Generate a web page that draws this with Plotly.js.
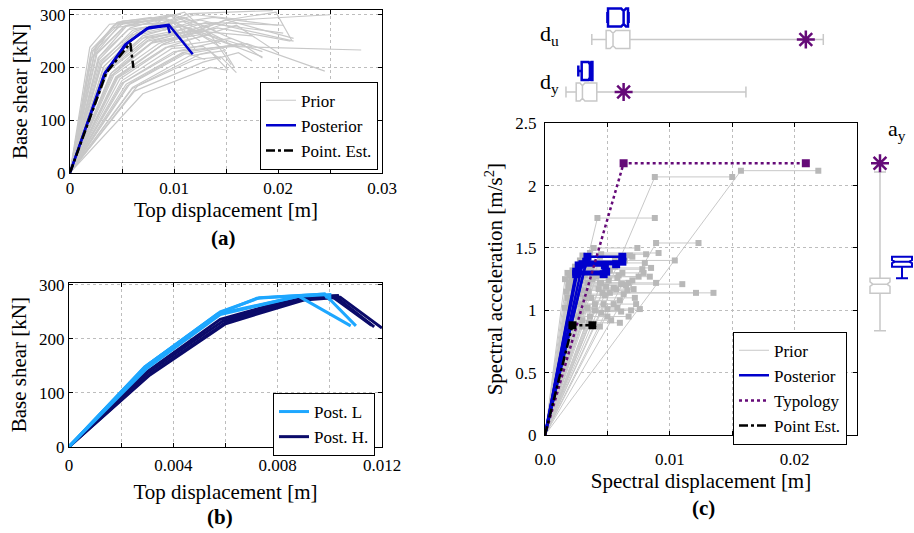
<!DOCTYPE html>
<html><head><meta charset="utf-8">
<script src="https://cdn.plot.ly/plotly-3.0.1.min.js"></script>
<style>html,body{margin:0;padding:0;background:#fff}#chart{width:914px;height:533px}</style>
</head><body><div id="chart"></div>
<script>
// ---------------- DATA ----------------
// (a) prior pushover curves: displacement [m], base shear [kN]
const priorA_x = [
 [0,0.0022,0.0045,0.0095,0.0125],[0,0.0025,0.005,0.009,0.013],[0,0.002,0.004,0.0085,0.0115],
 [0,0.0028,0.0055,0.01,0.014],[0,0.003,0.006,0.011,0.0155],[0,0.0032,0.0065,0.012,0.017],
 [0,0.0035,0.007,0.0125,0.0215],[0,0.004,0.008,0.014,0.0205],[0,0.0045,0.009,0.016,0.025],
 [0,0.005,0.01,0.015,0.028],[0,0.0055,0.011,0.017,0.0245],[0,0.006,0.012,0.0145,0.016],
 [0,0.007,0.0135,0.015],[0,0.0065,0.0125,0.0135,0.0152],[0,0.004,0.0075,0.012,0.0185],
 [0,0.0038,0.0072,0.0115,0.016],[0,0.003,0.006,0.0105,0.0145],[0,0.0025,0.0052,0.0098,0.012],
 [0,0.0027,0.0058,0.011,0.0135],[0,0.0042,0.0085,0.015,0.0215],[0,0.0048,0.0095,0.016,0.02],
 [0,0.0052,0.0105,0.0145,0.0185],[0,0.0058,0.011,0.013],[0,0.0034,0.0068,0.0118,0.0175],
 [0,0.0023,0.0048,0.0092,0.011],[0,0.002,0.0042,0.008,0.0105],[0,0.0021,0.0046,0.0078,0.0098],
 [0,0.0029,0.0062,0.0115,0.0195],[0,0.0036,0.0075,0.013,0.0205],[0,0.0044,0.0088,0.0135,0.0155],
 [0,0.005,0.0098,0.0128,0.0145],[0,0.0031,0.0064,0.0108,0.0128],[0,0.0026,0.0054,0.0102,0.0125],
 [0,0.0039,0.0078,0.0125,0.015],[0,0.0046,0.0092,0.0155,0.0175],[0,0.0054,0.0108,0.0165,0.0185],
 [0,0.0033,0.0066,0.012,0.0145],[0,0.0024,0.0051,0.0097,0.0118],[0,0.0037,0.0074,0.0128,0.0148],
 [0,0.006,0.0115,0.0148,0.0158],[0,0.0028,0.0056,0.0138,0.02],[0,0.0041,0.008,0.0142,0.0212],
 [0,0.0045,0.009,0.015,0.0198,0.0213],[0,0.0019,0.0038,0.0072,0.0092],[0,0.0062,0.0128,0.0162,0.0175]
];
const priorA_y = [
 [0,230,285,290,250],[0,240,288,295,260],[0,215,275,285,240],
 [0,220,280,300,270],[0,210,270,295,255],[0,200,265,300,290],
 [0,195,260,290,250],[0,185,250,285,280],[0,180,245,290,300],
 [0,170,230,240,233],[0,165,225,245,193],[0,160,215,220,190],
 [0,150,200,195],[0,165,225,230,195],[0,190,250,270,230],
 [0,200,258,275,240],[0,205,262,280,245],[0,225,278,298,235],
 [0,218,275,305,260],[0,185,245,290,255],[0,178,240,280,228],
 [0,172,232,250,220],[0,170,228,215],[0,198,255,270,260],
 [0,222,282,292,255],[0,228,280,290,265],[0,235,286,295,275],
 [0,212,268,302,308],[0,192,252,285,265],[0,182,242,262,205],
 [0,175,236,240,215],[0,208,266,288,268],[0,226,280,285,262],
 [0,188,246,262,232],[0,180,238,255,240],[0,168,228,245,218],
 [0,203,262,282,285],[0,232,284,300,282],[0,196,255,272,252],
 [0,162,222,232,200],[0,215,272,295,280],[0,186,248,275,250],
 [0,182,245,290,305,252],[0,238,282,288,270],[0,155,210,228,212]
];
const postA_x = [[0,0.0034,0.0055,0.0076,0.0095,0.0118],[0,0.0033,0.0053,0.0074,0.0094,0.0096]];
const postA_y = [[0,190,246,276,281,225],[0,188,243,274,279,265]];
const pointA_x = [0,0.0035,0.0058,0.0061];
const pointA_y = [0,190,246,199];

// (b) posterior curves, L and H
const postL_x = [[0,0.003,0.0058,0.0073,0.0098,0.011],[0,0.0029,0.0057,0.0088,0.01,0.01],
                 [0,0.003,0.0058,0.0088,0.0108],[0,0.0029,0.0058,0.0072,0.0098,0.0099]];
const postL_y = [[0,151,250,276,283,224],[0,147,246,279,282,270],
                 [0,146,245,279,224],[0,148,248,275,283,275]];
const postH_x = [[0,0.003,0.0059,0.0089,0.0102,0.0117],[0,0.0031,0.006,0.009,0.0104,0.012],
                 [0,0.003,0.0058,0.0088,0.0103,0.0104],[0,0.0031,0.006,0.0089,0.0101,0.0116]];
const postH_y = [[0,137,233,276,279,222],[0,133,228,272,277,220],
                 [0,139,236,277,280,268],[0,135,230,274,278,225]];

// (c) capacity curves: yield displacement dy, yield acceleration ay, ultimate displacement du
const priorC_dy = [0.0157,0.0088,0.0042,0.0089,0.0056,0.0052,0.0046,0.0062,0.0039,0.0036,
 0.0045,0.0033,0.0041,0.0038,0.0045,0.0040,0.0036,0.0030,0.0018,0.0020,
 0.0016,0.0022,0.0019,0.0021,0.0024,0.0026,0.0017,0.0023,0.0025,0.0027,
 0.0029,0.0031,0.0028,0.0032,0.0034,0.0020,0.0022,0.0026,0.0030,0.0035,
 0.0018,0.0024,0.0028,0.0030,0.0033,0.0037,0.0040,0.0043,0.0047,0.0050,
 0.0019,0.0021,0.0023,0.0025,0.0027,0.0032,0.0034,0.0016,0.0029,0.0044];
const priorC_ay = [2.12,2.07,1.74,1.54,1.40,1.14,1.14,1.21,1.50,1.46,
 1.45,1.33,1.27,1.27,1.22,1.00,0.95,0.87,1.30,1.28,
 1.25,1.32,1.22,1.18,1.26,1.30,1.15,1.12,1.08,1.20,
 1.24,1.16,1.05,1.10,1.02,1.05,0.98,0.95,0.92,0.90,
 1.10,1.35,1.40,1.44,1.38,1.34,1.30,1.17,1.05,1.01,
 1.19,1.24,1.21,1.17,1.13,1.28,1.22,1.02,0.99,1.43];
const priorC_du = [0.0219,0.0150,0.0088,0.0123,0.0104,0.0135,0.0121,0.0110,0.0074,0.0091,
 0.0081,0.0078,0.0084,0.0075,0.0089,0.0069,0.0067,0.0044,0.0041,0.0046,
 0.0038,0.0052,0.0044,0.0055,0.0058,0.0062,0.0035,0.0048,0.0060,0.0065,
 0.0070,0.0066,0.0055,0.0072,0.0058,0.0040,0.0045,0.0050,0.0053,0.0060,
 0.0037,0.0056,0.0064,0.0068,0.0080,0.0085,0.0079,0.0071,0.0073,0.0076,
 0.0049,0.0051,0.0061,0.0057,0.0063,0.0059,0.0067,0.0034,0.0061,0.0070];
const postC_dy = [0.0025,0.0025,0.0027,0.0034,0.0033,0.0030];
const postC_ay = [1.29,1.31,1.36,1.43,1.39,1.37];
const postC_du = [0.0047,0.0049,0.0048,0.0062,0.0062,0.0057];
const typo_dy = 0.0063, typo_ay = 2.18, typo_du = 0.0209;
const pointC_dy = 0.0022, pointC_ay = 0.88, pointC_du = 0.0038;

// box statistics [lowerfence, q1, median, q3, upperfence]
const box_du_prior = [0.00375,0.0049,0.00545,0.0068,0.0223];
const box_du_post  = [0.0050,0.00505,0.0063,0.00665,0.0067];
const box_dy_prior = [0.00168,0.0025,0.0030,0.00415,0.0161];
const box_dy_post  = [0.00267,0.00294,0.0036,0.0038,0.0038];
const box_ay_prior = [0.836,1.136,1.21,1.257,2.11];
const box_ay_post  = [1.257,1.35,1.39,1.43,1.43];

// ---------------- STYLE / LAYOUT ----------------
const F = 'Liberation Serif, Times New Roman, serif';
const W = 914, H = 533;
const X = p => p / W, Y = p => 1 - p / H;
const GRAY = '#c8c8c8', BLUE = '#0000cc', PURPLE = '#650a78', LIGHT = '#1ea7ff', NAVY = '#0b0b6a';

function joinCurves(xs, ys) {
  const x = [], y = [];
  xs.forEach((c, i) => { c.forEach((v, j) => { x.push(v); y.push(ys[i][j]); }); x.push(null); y.push(null); });
  return {x, y};
}
function capCurves(dy, ay, du) {
  const x = [], y = [];
  dy.forEach((d, i) => { x.push(0, d, du[i], null); y.push(0, ay[i], ay[i], null); });
  return {x, y};
}
function capMarkers(dy, ay, du) {
  const x = [], y = [];
  dy.forEach((d, i) => { x.push(d, du[i]); y.push(ay[i], ay[i]); });
  return {x, y};
}

const traces = [];
// (a)
const pa = joinCurves(priorA_x, priorA_y);
traces.push({x: pa.x, y: pa.y, type: 'scatter', mode: 'lines', name: 'Prior', line: {color: GRAY, width: 1.2},
  xaxis: 'x', yaxis: 'y', legend: 'legend', connectgaps: false});
const poa = joinCurves(postA_x, postA_y);
traces.push({x: poa.x, y: poa.y, type: 'scatter', mode: 'lines', name: 'Posterior', line: {color: BLUE, width: 2.5},
  xaxis: 'x', yaxis: 'y', legend: 'legend'});
traces.push({x: pointA_x, y: pointA_y, type: 'scatter', mode: 'lines', name: 'Point. Est.',
  line: {color: '#000', width: 2.5, dash: 'dashdot'}, xaxis: 'x', yaxis: 'y', legend: 'legend'});

// (b)
const ph = joinCurves(postH_x, postH_y);
const pl = joinCurves(postL_x, postL_y);
traces.push({x: ph.x, y: ph.y, type: 'scatter', mode: 'lines', name: 'Post. H.', line: {color: NAVY, width: 3},
  xaxis: 'x2', yaxis: 'y2', legend: 'legend2', legendrank: 2});
traces.push({x: pl.x, y: pl.y, type: 'scatter', mode: 'lines', name: 'Post. L', line: {color: LIGHT, width: 3},
  xaxis: 'x2', yaxis: 'y2', legend: 'legend2', legendrank: 1});

// (c)
const pc = capCurves(priorC_dy, priorC_ay, priorC_du);
const pcm = capMarkers(priorC_dy, priorC_ay, priorC_du);
traces.push({x: pc.x, y: pc.y, type: 'scatter', mode: 'lines', name: 'Prior', line: {color: GRAY, width: 1},
  xaxis: 'x3', yaxis: 'y3', legend: 'legend3'});
traces.push({x: pcm.x, y: pcm.y, type: 'scatter', mode: 'markers', showlegend: false,
  marker: {symbol: 'square', size: 6, color: '#b8b8b8'}, xaxis: 'x3', yaxis: 'y3'});
const poc = capCurves(postC_dy, postC_ay, postC_du);
const pocm = capMarkers(postC_dy, postC_ay, postC_du);
traces.push({x: poc.x, y: poc.y, type: 'scatter', mode: 'lines', name: 'Posterior', line: {color: BLUE, width: 2.5},
  xaxis: 'x3', yaxis: 'y3', legend: 'legend3'});
traces.push({x: pocm.x, y: pocm.y, type: 'scatter', mode: 'markers', showlegend: false,
  marker: {symbol: 'square', size: 8, color: BLUE}, xaxis: 'x3', yaxis: 'y3'});
const ty = capCurves([typo_dy], [typo_ay], [typo_du]);
const tym = capMarkers([typo_dy], [typo_ay], [typo_du]);
traces.push({x: ty.x, y: ty.y, type: 'scatter', mode: 'lines', name: 'Typology', line: {color: PURPLE, width: 2.5, dash: 'dot'},
  xaxis: 'x3', yaxis: 'y3', legend: 'legend3'});
traces.push({x: tym.x, y: tym.y, type: 'scatter', mode: 'markers', showlegend: false,
  marker: {symbol: 'square', size: 8, color: PURPLE}, xaxis: 'x3', yaxis: 'y3'});
const pt = capCurves([pointC_dy], [pointC_ay], [pointC_du]);
const ptm = capMarkers([pointC_dy], [pointC_ay], [pointC_du]);
traces.push({x: pt.x, y: pt.y, type: 'scatter', mode: 'lines', name: 'Point Est.', line: {color: '#000', width: 2.5, dash: 'dashdot'},
  xaxis: 'x3', yaxis: 'y3', legend: 'legend3'});
traces.push({x: ptm.x, y: ptm.y, type: 'scatter', mode: 'markers', showlegend: false,
  marker: {symbol: 'square', size: 8, color: '#000'}, xaxis: 'x3', yaxis: 'y3'});

// box plots (top: horizontal, y axis in pixel units; right: vertical, x axis in pixel units)
function hbox(s, pos, color, lw) {
  return {type: 'box', orientation: 'h', y: [pos], lowerfence: [s[0]], q1: [s[1]], median: [s[2]], q3: [s[3]], upperfence: [s[4]],
    notched: true, notchspan: [(s[3]-s[1])*0.12], notchwidth: 0.15, width: 18, whiskerwidth: 0.6,
    line: {color: color, width: lw}, fillcolor: 'rgba(255,255,255,0)', boxpoints: false, showlegend: false,
    hoverinfo: 'skip', xaxis: 'x4', yaxis: 'y4'};
}
function vbox(s, pos, color, lw) {
  return {type: 'box', x: [pos], lowerfence: [s[0]], q1: [s[1]], median: [s[2]], q3: [s[3]], upperfence: [s[4]],
    notched: true, notchspan: [(s[3]-s[1])*0.15], notchwidth: 0.15, width: 20, whiskerwidth: 0.6,
    line: {color: color, width: lw}, fillcolor: 'rgba(255,255,255,0)', boxpoints: false, showlegend: false,
    hoverinfo: 'skip', xaxis: 'x5', yaxis: 'y5'};
}
const POS = {du_post: 17.5, du_prior: 39.5, dy_post: 71, dy_prior: 92};
traces.push(hbox(box_du_prior, POS.du_prior, GRAY, 1.5));
traces.push(hbox(box_du_post, POS.du_post, BLUE, 2.5));
traces.push(hbox(box_dy_prior, POS.dy_prior, GRAY, 1.5));
traces.push(hbox(box_dy_post, POS.dy_post, BLUE, 2.5));
traces.push(vbox(box_ay_prior, 880, GRAY, 1.5));
traces.push(vbox(box_ay_post, 902, BLUE, 2));
const star = {symbol: 'asterisk-open', size: 15, line: {color: PURPLE, width: 2.5}, color: PURPLE};
traces.push({x: [typo_du, typo_dy], y: [POS.du_prior, POS.dy_prior], type: 'scatter', mode: 'markers',
  marker: star, showlegend: false, xaxis: 'x4', yaxis: 'y4'});
traces.push({x: [880], y: [typo_ay], type: 'scatter', mode: 'markers',
  marker: star, showlegend: false, xaxis: 'x5', yaxis: 'y5'});

const tf = {family: F, size: 17, color: '#000'};
const base = {showline: true, linecolor: '#000', linewidth: 1, mirror: 'ticks', ticks: 'inside', ticklen: 4,
  tickcolor: '#000', showgrid: true, gridcolor: '#bdbdbd', griddash: 'dot', gridwidth: 1, zeroline: false,
  tickfont: tf, automargin: false, fixedrange: true};
const ttl = (t, s) => ({text: t, font: {family: F, size: 21, color: '#000'}, standoff: s});
const legBase = {bgcolor: '#fff', bordercolor: '#000', borderwidth: 1, font: {family: F, size: 17, color: '#000'},
  xanchor: 'right', yanchor: 'top', tracegroupgap: 0, itemwidth: 30};
const ann = (t, px, py, size) => ({text: t, x: X(px), y: Y(py), xref: 'paper', yref: 'paper', showarrow: false,
  xanchor: 'center', yanchor: 'middle', font: {family: F, size: size, color: '#000'}});

const layout = {
  width: W, height: H, margin: {l: 0, r: 0, t: 0, b: 0}, paper_bgcolor: '#fff', plot_bgcolor: '#fff',
  font: {family: F, color: '#000'}, showlegend: true,
  xaxis: Object.assign({}, base, {domain: [X(70), X(382)], range: [0, 0.03], anchor: 'y',
    tickvals: [0,0.005,0.01,0.015,0.02,0.025,0.03], ticktext: ['0','','0.01','','0.02','','0.03'],
    title: ttl('Top displacement [m]', 4)}),
  yaxis: Object.assign({}, base, {domain: [Y(172.7), Y(10)], range: [0, 309], anchor: 'x',
    tickvals: [0,100,200,300], title: ttl('Base shear [kN]', 6)}),
  xaxis2: Object.assign({}, base, {domain: [X(69), X(382)], range: [0, 0.012], anchor: 'y2',
    tickvals: [0,0.002,0.004,0.006,0.008,0.01,0.012], ticktext: ['0','','0.004','','0.008','','0.012'],
    ticklabelstandoff: 3, title: ttl('Top displacement [m]', 10)}),
  yaxis2: Object.assign({}, base, {domain: [Y(446.7), Y(282.7)], range: [0, 304], anchor: 'x2',
    tickvals: [0,100,200,300], title: ttl('Base shear [kN]', 6)}),
  xaxis3: Object.assign({}, base, {domain: [X(545), X(857)], range: [0, 0.025], anchor: 'y3',
    tickvals: [0,0.005,0.01,0.015,0.02,0.025], ticktext: ['0.0','','0.01','','0.02',''],
    ticklabelstandoff: 9, title: ttl('Spectral displacement [m]', 3)}),
  yaxis3: Object.assign({}, base, {domain: [Y(435), Y(123.3)], range: [0, 2.5], anchor: 'x3',
    tickvals: [0,0.5,1,1.5,2,2.5], ticktext: ['0','0.5','1','1.5','2','2.5'],
    ticklabelstandoff: 4, title: ttl('Spectral acceleration [m/s<sup>2</sup>]', 6)}),
  xaxis4: {domain: [X(545), X(857)], range: [0, 0.025], anchor: 'y4', visible: false, fixedrange: true},
  yaxis4: {domain: [Y(110), 1], range: [110, 0], anchor: 'x4', visible: false, fixedrange: true},
  xaxis5: {domain: [X(862), 1], range: [862, 914], anchor: 'y5', visible: false, fixedrange: true},
  yaxis5: {domain: [Y(435), Y(123.3)], range: [0, 2.5], anchor: 'x5', visible: false, fixedrange: true},
  legend: Object.assign({}, legBase, {x: X(378), y: Y(81.7)}),
  legend2: Object.assign({}, legBase, {x: X(375), y: Y(393)}),
  legend3: Object.assign({}, legBase, {x: X(847), y: Y(331.7)}),
  annotations: [
    ann('<b>(a)</b>', 223, 238, 21),
    ann('<b>(b)</b>', 220, 517, 21),
    ann('<b>(c)</b>', 703, 508, 21),
    ann('d<sub>u</sub>', 549, 35, 22),
    ann('d<sub>y</sub>', 549, 83, 22),
    ann('a<sub>y</sub>', 897, 130, 22)
  ]
};
Plotly.newPlot('chart', traces, layout, {staticPlot: true, displayModeBar: false});
</script></body></html>
